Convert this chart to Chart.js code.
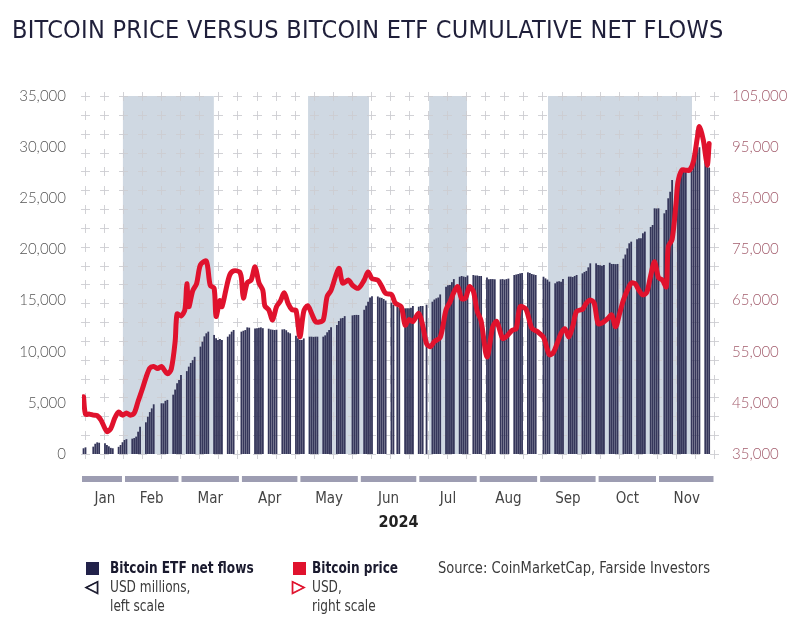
<!DOCTYPE html>
<html>
<head>
<meta charset="utf-8">
<script src="https://cdn.jsdelivr.net/npm/chart.js@4.4.1/dist/chart.umd.min.js"></script>
<style>
html,body{margin:0;padding:0;background:#fff;}
#wrap{position:relative;width:800px;height:623px;overflow:hidden;background:#fff;}
canvas{position:absolute;left:0;top:0;}
.t{position:absolute;white-space:nowrap;font-family:"Liberation Sans Narrow","Arial Narrow","DejaVu Sans Condensed",sans-serif;line-height:19px;font-size:15px;color:#3a3a3a;}
.n{transform:scaleX(0.9);transform-origin:0 50%;}
#title{left:12px;top:15px;font-size:25px;line-height:30px;color:#1f1f3a;letter-spacing:0.27px;}
.b{font-weight:bold;color:#1a1a2e;}
.sq{position:absolute;width:13px;height:13px;}
.tri{font-family:'DejaVu Sans',sans-serif;font-weight:bold;font-size:17px;-webkit-text-stroke:0.8px currentColor;}
</style>
</head>
<body>
<div id="wrap">
<canvas id="c" width="800" height="623"></canvas>
<div class="t" id="title">BITCOIN PRICE VERSUS BITCOIN ETF CUMULATIVE NET FLOWS</div>
<div class="sq" style="left:86px;top:562px;background:#22224a;"></div>
<div class="t b n" style="left:110px;top:559px;">Bitcoin ETF net flows</div>
<div class="t tri" style="left:85px;top:577px;color:#1a1a2e;">&#9665;</div>
<div class="t n" style="left:110px;top:578px;">USD millions,</div>
<div class="t n" style="left:110px;top:597px;">left scale</div>
<div class="sq" style="left:293px;top:562px;background:#e0122d;"></div>
<div class="t b n" style="left:312px;top:559px;">Bitcoin price</div>
<div class="t tri" style="left:292px;top:577px;color:#e0122d;">&#9655;</div>
<div class="t n" style="left:312px;top:578px;">USD,</div>
<div class="t n" style="left:312px;top:597px;">right scale</div>
<div class="t n" style="left:438px;top:559px;transform:scaleX(0.97);">Source: CoinMarketCap, Farside Investors</div>
</div>
<script>
// ---------- DATA ----------
const monthNames = ['Jan','Feb','Mar','Apr','May','Jun','Jul','Aug','Sep','Oct','Nov'];
const monthTickDays = [21, 45, 75, 105.5, 136, 166.5, 197, 228, 258.5, 289, 319.5];
const monthStartDays = [0, 31, 60, 91, 121, 152, 182, 213, 244, 274, 305, 335]; // 2024, Jan 1 = 0
const leftTicks = [0, 5000, 10000, 15000, 20000, 25000, 30000, 35000];
const rightTicks = [35000, 45000, 55000, 65000, 75000, 85000, 95000, 105000];

// Shaded periods [start day, end day]
const shadedPeriods = [[30.1, 76.9], [125.2, 156.5], [187.3, 206.8], [248.3, 322.2]];

// Bitcoin ETF cumulative net flows, USD millions: [day of month, value]
const flowsJan = [[11,560],[12,650],[16,720],[17,1000],[18,1140],[19,1100],[22,1050],[23,880],[24,750],[25,600],[26,560],[29,700],[30,880],[31,1150]];
const flowsFeb = [[1,1370],[2,1450],[5,1500],[6,1560],[7,1700],[8,2180],[9,2670],[12,3100],[13,3650],[14,4100],[15,4460],[16,4860],[20,4960],[21,4950],[22,5200],[23,5290],[26,5800],[27,6300],[28,6910],[29,7240]];
const flowsMar = [[1,7720],[4,8100],[5,8540],[6,8900],[7,9170],[8,9500],[11,10500],[12,10980],[13,11500],[14,11800],[15,11960],[18,11640],[19,11310],[20,11150],[21,11250],[22,11150],[25,11470],[26,11700],[27,11960],[28,12120]];
const flowsApr = [[1,11960],[2,12050],[3,12120],[4,12380],[5,12350],[8,12280],[9,12300],[10,12350],[11,12380],[12,12300],[15,12250],[16,12180],[17,12150],[18,12120],[19,12150],[22,12180],[23,12200],[24,12100],[25,11900],[26,11800],[29,11550],[30,11310]];
const flowsMay = [[1,11150],[2,11150],[3,11300],[6,11470],[7,11470],[8,11450],[9,11470],[10,11470],[13,11470],[14,11600],[15,11900],[16,12120],[17,12400],[20,12610],[21,13000],[22,13260],[23,13300],[24,13480],[28,13550],[29,13590],[30,13600],[31,13590]];
const flowsJun = [[3,14100],[4,14500],[5,14890],[6,15310],[7,15420],[10,15400],[11,15300],[12,15260],[13,15150],[14,15000],[17,14800],[18,14570],[20,14400],[21,14300],[24,14240],[25,14240],[26,14250],[27,14300],[28,14470]];
const flowsJul = [[1,14400],[2,14470],[3,14470],[5,14600],[8,14890],[9,15100],[10,15220],[11,15300],[12,15600],[15,16360],[16,16500],[17,16530],[18,16800],[19,17100],[22,17330],[23,17400],[24,17350],[25,17300],[26,17450],[29,17500],[30,17450],[31,17450]];
const flowsAug = [[1,17400],[2,17400],[5,17250],[6,17080],[7,17100],[8,17100],[9,17080],[12,17080],[13,17100],[14,17050],[15,17100],[16,17150],[19,17500],[20,17550],[21,17600],[22,17660],[23,17700],[26,17760],[27,17700],[28,17600],[29,17550],[30,17500]];
const flowsSep = [[3,17330],[4,17170],[5,17050],[6,16850],[9,16690],[10,16850],[11,16900],[12,16850],[13,17100],[16,17340],[17,17340],[18,17300],[19,17400],[20,17500],[23,17660],[24,17800],[25,17900],[26,18250],[27,18640],[30,18640]];
const flowsOct = [[1,18480],[2,18450],[3,18400],[4,18480],[7,18700],[8,18580],[9,18580],[10,18560],[11,18580],[14,19100],[15,19500],[16,20100],[17,20600],[18,20760],[21,21000],[22,21090],[23,21100],[24,21580],[25,21740],[28,22200],[29,22390],[30,24020],[31,24000]];
const flowsNov = [[1,24020],[4,23530],[5,23860],[6,25000],[7,25650],[8,26790],[11,26950],[12,27300],[13,27600],[14,27600],[15,27930],[18,27700],[19,28420],[20,29000],[21,29800],[22,30000],[25,28900],[26,28300],[27,28000]];
const etfFlows = [flowsJan, flowsFeb, flowsMar, flowsApr, flowsMay, flowsJun, flowsJul, flowsAug, flowsSep, flowsOct, flowsNov];

// Bitcoin price, USD: [day of month, value]
const priceJan = [[11,46200],[12,42800],[14,42800],[16,42600],[18,42500],[20,41600],[23,39400],[25,40000],[27,42000],[29,43200],[31,42600]];
const priceFeb = [[2,43000],[4,42600],[6,43000],[8,45300],[10,47500],[12,49900],[14,51800],[16,52100],[18,51700],[20,52100],[23,50700],[25,51600],[27,57000],[28,62400]];
const priceMar = [[1,62000],[3,63200],[4,68300],[5,63800],[7,66900],[9,68300],[11,72000],[14,72700],[16,68000],[18,67400],[19,61900],[21,65000],[22,63800],[24,67000],[26,70000],[28,70800],[31,70600]];
const priceApr = [[1,69400],[2,65500],[4,68500],[6,69000],[8,71600],[10,68500],[12,67000],[13,64000],[15,63200],[17,61200],[19,63800],[21,64900],[23,66500],[25,64400],[27,63200],[29,63100]];
const priceMay = [[1,57900],[3,62900],[5,64000],[7,62500],[9,60900],[11,60800],[13,61200],[15,65800],[17,67000],[21,71300],[23,68400],[26,69000],[28,68000],[31,67400]];
const priceJun = [[3,69000],[5,70600],[7,69300],[10,69000],[12,67800],[14,66400],[17,66200],[19,64500],[22,63800],[24,60200],[26,61300],[28,60900]];
const priceJul = [[1,62500],[3,60200],[5,56600],[7,56000],[9,57000],[12,57800],[15,63200],[17,64700],[19,66600],[21,67700],[23,65400],[25,65500],[27,67700],[29,66800],[31,62900]];
const priceAug = [[2,61000],[5,54000],[8,59900],[10,60900],[13,57600],[15,58000],[18,59200],[20,59500],[22,63800],[25,63300],[28,59600],[31,58900]];
const priceSep = [[3,57800],[6,54400],[8,54800],[10,56600],[12,58600],[14,59500],[16,57900],[18,60000],[20,62900],[23,63300],[25,64500],[27,65100],[29,64500]];
const priceOct = [[1,60500],[3,60600],[6,61500],[8,62200],[10,59900],[12,62400],[14,65100],[16,67000],[18,68400],[20,68300],[22,67000],[24,66100],[26,66600],[28,69900],[30,72600]];
const priceNov = [[1,69500],[3,69000],[5,67700],[6,75500],[8,77000],[10,84000],[11,88200],[13,90500],[15,90500],[17,90500],[19,92300],[21,97000],[22,99000],[24,96400],[26,91500],[27,95700]];
const btcPrice = [priceJan, priceFeb, priceMar, priceApr, priceMay, priceJun, priceJul, priceAug, priceSep, priceOct, priceNov];

// ---------- BUILD ----------
const X_MIN = 9.21, X_MAX = 334.0;
function toPoints(months){
  const out = [];
  months.forEach((arr, m) => arr.forEach(([d, v]) => out.push({x: monthStartDays[m] + d - 1, y: v})));
  return out;
}
const flowPoints = toPoints(etfFlows);
const pricePoints = toPoints(btcPrice);
const bandPoints = [];
shadedPeriods.forEach(([a, b]) => { bandPoints.push({x:a, y:35000}, {x:b, y:35000}, {x:b + 0.01, y:null}); });

const NARROW = '"Liberation Sans Narrow","Arial Narrow","DejaVu Sans Condensed",sans-serif';
const LIGHT = 'Lato, "Open Sans", sans-serif';
const fmt = new Intl.NumberFormat('en-US');

const crossPlugin = {
  id: 'crosses',
  afterDatasetDraw(chart, args){
    if (args.index !== 2) return;
    const {ctx, chartArea: a} = chart;
    ctx.save();
    ctx.strokeStyle = 'rgba(205,205,210,0.9)';
    ctx.lineWidth = 1;
    const x0 = a.left + 3, x1 = a.right - 1, nx = 33;
    const y0 = a.top, y1 = a.bottom, ny = 19;
    const arm = 4.5;
    ctx.beginPath();
    for (let i = 0; i <= nx; i++){
      const x = Math.round(x0 + (x1 - x0) * i / nx) + 0.5;
      for (let j = 0; j <= ny; j++){
        const y = Math.round(y0 + (y1 - y0) * j / ny) + 0.5;
        ctx.moveTo(x - arm, y); ctx.lineTo(x + arm, y);
        ctx.moveTo(x, y - arm); ctx.lineTo(x, y + arm);
      }
    }
    ctx.stroke();
    ctx.restore();
  }
};
const monthStripPlugin = {
  id: 'monthStrips',
  afterDraw(chart){
    const {ctx} = chart;
    const xs = chart.scales.x;
    const y = chart.chartArea.bottom + 22;
    ctx.save();
    ctx.fillStyle = '#9d9db2';
    for (let m = 0; m < monthNames.length; m++){
      const s = m === 0 ? X_MIN : monthStartDays[m] - 0.5;
      const e = Math.min(monthStartDays[m + 1] - 0.5, X_MAX);
      const p1 = xs.getPixelForValue(s) + (m === 0 ? 0 : 1.5);
      const p2 = xs.getPixelForValue(e) - 1.5;
      ctx.fillRect(p1, y, p2 - p1, 6);
    }
    ctx.restore();
  }
};

new Chart(document.getElementById('c'), {
  type: 'bar',
  data: {
    datasets: [
      {type:'line', label:'Bitcoin price', data: pricePoints, yAxisID:'yR', borderColor:'#e0122d', borderWidth:5,
       pointRadius:0, tension:0.3, borderJoinStyle:'round', borderCapStyle:'round', order:0},
      {type:'bar', label:'Bitcoin ETF net flows', data: flowPoints, yAxisID:'yL', backgroundColor:'#35365a',
       barPercentage:0.93, categoryPercentage:1, order:1},
      {type:'line', label:'shaded', data: bandPoints, yAxisID:'yL', borderWidth:0, pointRadius:0,
       fill:'origin', backgroundColor:'rgba(175,190,207,0.6)', spanGaps:false, order:2}
    ]
  },
  options: {
    responsive:false, animation:false,
    layout:{padding:{top:96, bottom:89, left:0, right:0}},
    plugins:{legend:{display:false}, tooltip:{enabled:false}, title:{display:false}},
    scales:{
      x:{type:'linear', min:X_MIN, max:X_MAX, offset:false,
         grid:{display:false, drawTicks:false}, border:{display:false},
         afterBuildTicks:(s)=>{ s.ticks = monthTickDays.map(v=>({value:v})); },
         ticks:{autoSkip:false, maxRotation:0, padding:36, color:'#444',
                font:{family:NARROW, size:15},
                callback:(v,i)=>monthNames[i]},
         title:{display:true, text:'2024', color:'#222', font:{family:NARROW, size:16, weight:'bold'}, padding:{top:0,bottom:2}},
         afterFit:(s)=>{ s.height = 80; }},
      yL:{position:'left', min:0, max:35000,
          grid:{display:false, drawTicks:false}, border:{display:false},
          afterBuildTicks:(s)=>{ s.ticks = leftTicks.map(v=>({value:v})); },
          ticks:{padding:16, color:'#555', font:{family:LIGHT, size:15, weight:'300'}, callback:(v)=>fmt.format(v)},
          afterFit:(s)=>{ s.width = 82; }},
      yR:{position:'right', min:35000, max:105000,
          grid:{display:false, drawTicks:false}, border:{display:false},
          afterBuildTicks:(s)=>{ s.ticks = rightTicks.map(v=>({value:v})); },
          ticks:{padding:17, color:'#a35d6d', font:{family:LIGHT, size:15, weight:'300'}, callback:(v)=>fmt.format(v)},
          afterFit:(s)=>{ s.width = 85; }}
    }
  },
  plugins:[crossPlugin, monthStripPlugin]
});
</script>
</body>
</html>
